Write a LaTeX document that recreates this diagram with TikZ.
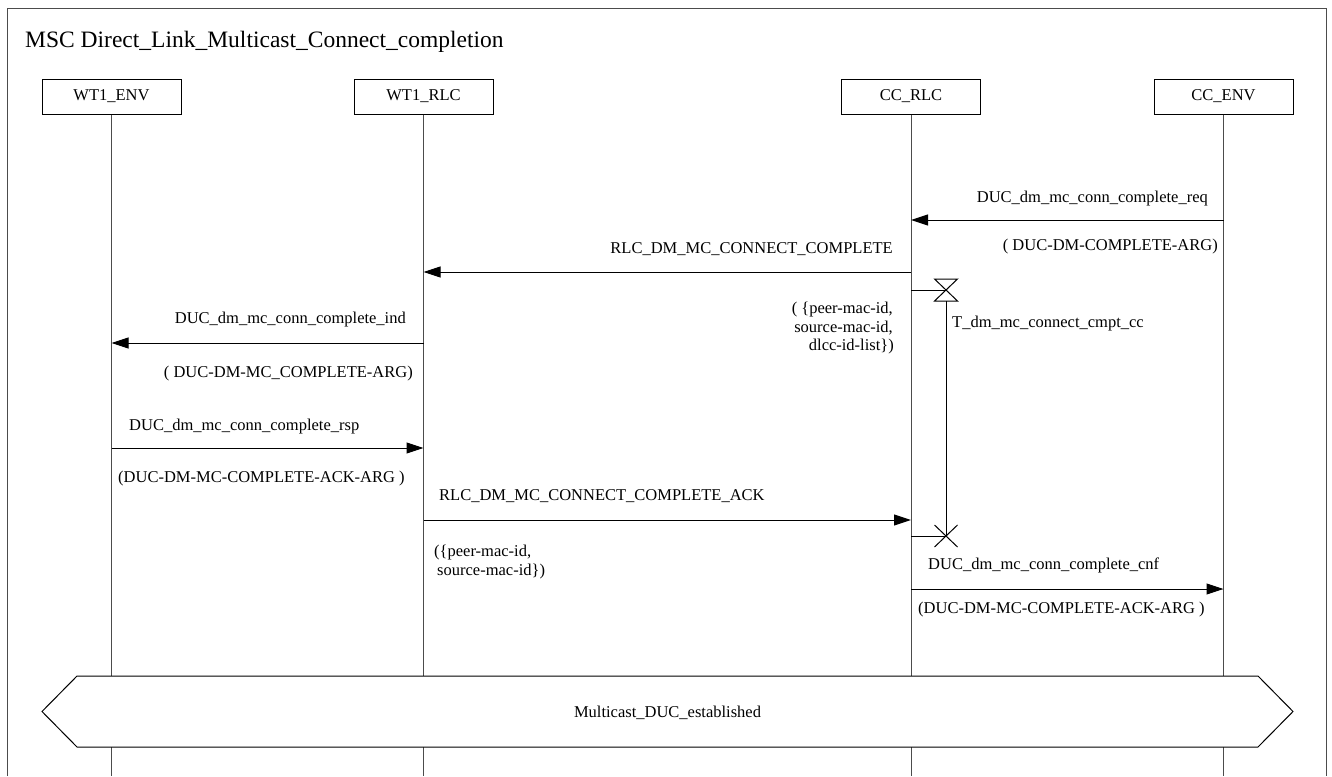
\documentclass[tikz,border=0pt]{standalone}
\usepackage{fontspec}
\setmainfont{Liberation Serif}
\usetikzlibrary{arrows.meta}
\begin{document}
\begin{tikzpicture}[x=1pt,y=-1pt,
  lbl/.style={font=\fontsize{16.5}{18.5}\selectfont, inner sep=0pt},
  inst/.style={draw, line width=1pt, minimum width=139pt, minimum height=35pt, inner sep=0pt, font=\fontsize{16.5}{18.5}\selectfont},
  life/.style={line width=1pt, draw=black!70},
  msg/.style={line width=1pt, draw=black, -{Triangle[length=17pt,width=11pt]}},
  tline/.style={line width=1pt, draw=black}]
\useasboundingbox (0,0) rectangle (1332,776);
\fill[white] (0,0) rectangle (1332,776);
% frame
\coordinate (fBL) at (7.5,776);
\coordinate (fTL) at (7.5,8.5);
\coordinate (fTR) at (1326,8.5);
\coordinate (fBR) at (1326,776);
\draw[life] (fBL) -- (fTL) -- (fTR) -- (fBR);
\node[inner sep=0pt, font=\fontsize{23.5}{26}\selectfont, anchor=base west] (title) at (25,47.3) {MSC Direct\_Link\_Multicast\_Connect\_completion};
% instances
\node[inst] (wenv) at (111.5,96.5) {WT1\_ENV};
\node[inst] (wrlc) at (423.5,96.5) {WT1\_RLC};
\node[inst] (crlc) at (911,96.5) {CC\_RLC};
\node[inst] (cenv) at (1223.5,96.5) {CC\_ENV};
\coordinate (wenvB) at (111.5,776);
\coordinate (wrlcB) at (423.5,776);
\coordinate (crlcB) at (911,776);
\coordinate (cenvB) at (1223.5,776);
\draw[life] (wenv.south) -- (wenvB);
\draw[life] (wrlc.south) -- (wrlcB);
\draw[life] (crlc.south) -- (crlcB);
\draw[life] (cenv.south) -- (cenvB);
% message endpoints
\coordinate (m1a) at (1223.5,220); \coordinate (m1b) at (911,220);
\coordinate (m2a) at (911,272);    \coordinate (m2b) at (423.5,272);
\coordinate (m3a) at (423.5,343);  \coordinate (m3b) at (111.5,343);
\coordinate (m4a) at (111.5,448);  \coordinate (m4b) at (423.5,448);
\coordinate (m5a) at (423.5,520);  \coordinate (m5b) at (911,520);
\coordinate (m6a) at (911,589);    \coordinate (m6b) at (1223.5,589);
\draw[msg] (m1a) -- (m1b);
\draw[msg] (m2a) -- (m2b);
\draw[msg] (m3a) -- (m3b);
\draw[msg] (m4a) -- (m4b);
\draw[msg] (m5a) -- (m5b);
\draw[msg] (m6a) -- (m6b);
% labels
\node[lbl, anchor=base east] (l1) at (1208,202) {DUC\_dm\_mc\_conn\_complete\_req};
\node[lbl, anchor=base east] (p1) at (1218,250) {( DUC-DM-COMPLETE-ARG)};
\node[lbl, anchor=base east] (l2) at (893,253) {RLC\_DM\_MC\_CONNECT\_COMPLETE};
\node[lbl, anchor=base east] (p2a) at (893,313) {( \{peer-mac-id,};
\node[lbl, anchor=base east] (p2b) at (893,332) {source-mac-id,};
\node[lbl, anchor=base east] (p2c) at (894,350) {dlcc-id-list\})};
\node[lbl, anchor=base east] (l3) at (406,323) {DUC\_dm\_mc\_conn\_complete\_ind};
\node[lbl, anchor=base east] (p3) at (413,377) {( DUC-DM-MC\_COMPLETE-ARG)};
\node[lbl, anchor=base west] (l4) at (129,430) {DUC\_dm\_mc\_conn\_complete\_rsp};
\node[lbl, anchor=base west] (p4) at (118,482) {(DUC-DM-MC-COMPLETE-ACK-ARG )};
\node[lbl, anchor=base west] (l5) at (439,500) {RLC\_DM\_MC\_CONNECT\_COMPLETE\_ACK};
\node[lbl, anchor=base west] (p5a) at (434,556) {(\{peer-mac-id,};
\node[lbl, anchor=base west] (p5b) at (437,575) {source-mac-id\})};
\node[lbl, anchor=base west] (l6) at (928,569) {DUC\_dm\_mc\_conn\_complete\_cnf};
\node[lbl, anchor=base west] (p6) at (918,613) {(DUC-DM-MC-COMPLETE-ACK-ARG )};
% timer
\coordinate (tS) at (911,290);
\coordinate (tH) at (946,290);
\coordinate (tHb) at (946,301);
\coordinate (tE) at (946,536);
\coordinate (tEl) at (911,536);
\draw[tline] (tS) -- (tH);
\draw[tline] (934.5,279) -- (957.5,279) -- (934.5,301) -- (957.5,301) -- cycle;
\draw[tline] (tHb) -- (tE);
\draw[tline] (934.5,525) -- (957.5,547) (957.5,525) -- (934.5,547);
\draw[tline] (tEl) -- (tE);
\node[lbl, anchor=base west] (tl) at (952,327) {T\_dm\_mc\_connect\_cmpt\_cc};
% condition
\draw[line width=1pt, fill=white] (42,711.5) -- (77,676) -- (1258,676) -- (1293,711.5) -- (1258,747) -- (77,747) -- cycle;
\node[lbl, anchor=base] (cond) at (667.5,717) {Multicast\_DUC\_established};
\end{tikzpicture}
\end{document}
